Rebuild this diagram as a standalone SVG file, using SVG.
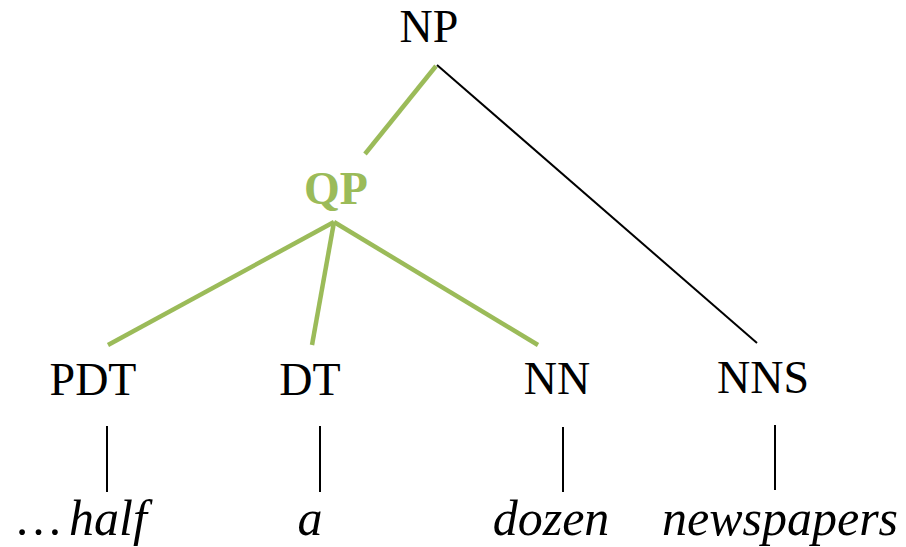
<svg xmlns="http://www.w3.org/2000/svg" width="906" height="547" viewBox="0 0 906 547">
  <style>
    .lbl { font-family: "Liberation Serif", "Times New Roman", serif; font-size: 46px; fill: #000; }
    .qp { font-family: "Liberation Serif", "Times New Roman", serif; font-size: 46px; font-weight: bold; fill: #9BBB59; }
    .word { font-family: "Liberation Serif", "Times New Roman", serif; font-size: 50px; font-style: italic; fill: #000; }
    .dots { font-family: "Liberation Serif", "Times New Roman", serif; font-size: 49px; fill: #000; }
    .edge { stroke: #000; stroke-width: 2; fill: none; }
    .hl { stroke: #9BBB59; stroke-width: 4.5; fill: none; }
  </style>
  <rect width="906" height="547" fill="#fff"/>

  <g id="connectors">
    <line class="hl" x1="436" y1="66" x2="365" y2="154"/>
    <line class="edge" x1="437" y1="65" x2="757" y2="343"/>
    <line class="hl" x1="334" y1="222" x2="108" y2="345"/>
    <line class="hl" x1="334" y1="222" x2="312" y2="345"/>
    <line class="hl" x1="334" y1="222" x2="538" y2="345"/>
    <line class="edge" x1="107" y1="426" x2="107" y2="492"/>
    <line class="edge" x1="320" y1="426" x2="320" y2="492"/>
    <line class="edge" x1="563" y1="427" x2="563" y2="492"/>
    <line class="edge" x1="775" y1="425" x2="775" y2="490"/>
  </g>

  <g id="np"><text class="lbl" x="429" y="42" text-anchor="middle">NP</text></g>
  <g id="qp"><text class="qp" x="336" y="204" text-anchor="middle">QP</text></g>
  <g id="pdt"><text class="lbl" x="93" y="395" text-anchor="middle">PDT</text></g>
  <g id="dt"><text class="lbl" x="310" y="395" text-anchor="middle">DT</text></g>
  <g id="nn"><text class="lbl" x="557" y="394" text-anchor="middle">NN</text></g>
  <g id="nns"><text class="lbl" x="763" y="393" text-anchor="middle">NNS</text></g>

  <g id="w-half"><text x="14" y="535"><tspan class="dots">…</tspan><tspan class="word" dx="6">half</tspan></text></g>
  <g id="w-a"><text class="word" x="310" y="535" text-anchor="middle">a</text></g>
  <g id="w-dozen"><text class="word" x="551" y="535" text-anchor="middle">dozen</text></g>
  <g id="w-newspapers"><text class="word" x="780" y="535" text-anchor="middle">newspapers</text></g>
</svg>
